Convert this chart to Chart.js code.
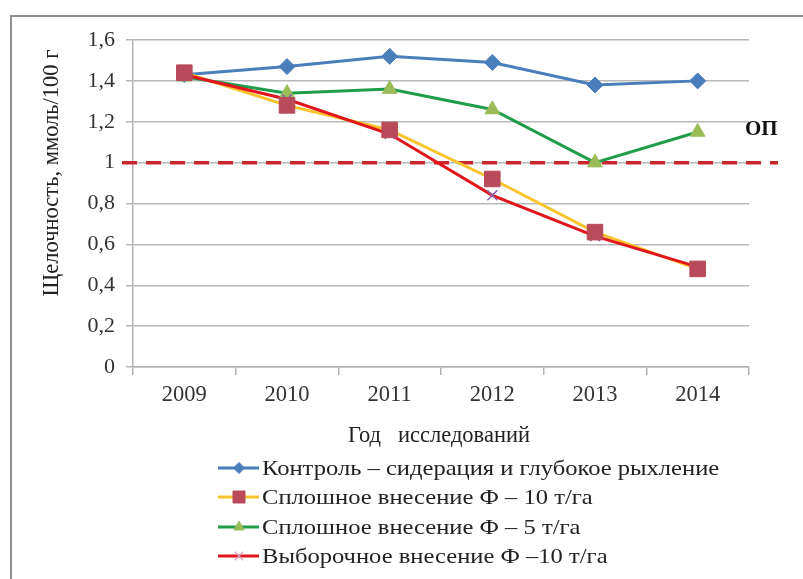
<!DOCTYPE html>
<html>
<head>
<meta charset="utf-8">
<script src="https://cdn.jsdelivr.net/npm/chart.js@4/dist/chart.umd.min.js"></script>
<style>
  html, body { margin: 0; padding: 0; background: #ffffff; }
  #wrap { width: 803px; height: 579px; position: relative; }
</style>
</head>
<body>
<div id="wrap"><canvas id="chart" width="803" height="579"></canvas></div>
<script>
// Years of observation
const years = ['2009', '2010', '2011', '2012', '2013', '2014'];

// Alkalinity, mmol/100 g
const control     = [1.43, 1.47, 1.52, 1.49, 1.38, 1.40];
const solid10     = [1.44, 1.28, 1.16, 0.92, 0.66, 0.48];
const solid5      = [1.42, 1.34, 1.36, 1.26, 1.00, 1.15];
const selective10 = [1.43, 1.31, 1.14, 0.84, 0.64, 0.49];

const seriesNames = [
  'Контроль \u2013 сидерация и глубокое рыхление',
  'Сплошное внесение Ф \u2013 10 т/га',
  'Сплошное внесение Ф \u2013 5 т/га',
  'Выборочное внесение Ф \u201310 т/га'
];

// Y axis ticks
const yTicks = [0, 0.2, 0.4, 0.6, 0.8, 1, 1.2, 1.4, 1.6];

// Optimal level line
const thresholdValue = 1;
const thresholdLabel = 'ОП';

const xTitle = 'Год   исследований';
const yTitle = 'Щелочность, ммоль/100 г';

const SERIF = '"Liberation Serif", "Times New Roman", serif';

const styles = [
  { line: '#4a7ebb', fill: '#4a7ebb', stroke: '#4a7ebb', point: 'rectRot',  radius: 8,    bw: 1,   legendR: 5.5 },
  { line: '#f9c32c', fill: '#b94a5a', stroke: '#b94a5a', point: 'rect',     radius: 11,   bw: 1,   legendR: 8.5 },
  { line: '#1f9d4a', fill: '#9bbb59', stroke: '#9bbb59', point: 'triangle', radius: 8.5,  bw: 1,   legendR: 6 },
  { line: '#e0161c', fill: '#d9a0c0', stroke: '#d9a0c0', point: 'crossRot', radius: 7,    bw: 1.2, legendR: 6 }
];
const markerColors = ['#4a7ebb', '#b94a5a', '#9bbb59', '#8a64a8'];
const seriesData = [control, solid10, solid5, selective10];
const lineOrder = [14, 13, 12, 11];
const markerOrder = [3, 0, 2, 1];

const datasets = [];
seriesData.forEach((d, i) => {
  const s = styles[i];
  datasets.push({
    label: seriesNames[i],
    data: d,
    borderColor: s.line,
    borderWidth: 3,
    pointRadius: 0,
    pointHoverRadius: 0,
    fill: false,
    tension: 0,
    order: lineOrder[i]
  });
});
seriesData.forEach((d, i) => {
  const s = styles[i];
  datasets.push({
    label: seriesNames[i] + ' (markers)',
    data: d,
    showLine: false,
    pointStyle: s.point,
    pointRadius: s.radius,
    pointHoverRadius: s.radius,
    pointBackgroundColor: markerColors[i],
    pointBorderColor: markerColors[i],
    pointBorderWidth: i === 3 ? 1.5 : s.bw,
    order: markerOrder[i]
  });
});

const fmt = v => String(+Number(v).toFixed(1)).replace('.', ',');

const decor = {
  id: 'decor',
  beforeDraw(chart) {
    const ctx = chart.ctx;
    ctx.save();
    ctx.strokeStyle = '#8f8f8f';
    ctx.lineWidth = 2;
    ctx.beginPath();
    ctx.moveTo(11, 579);
    ctx.lineTo(11, 16);
    ctx.lineTo(803, 16);
    ctx.stroke();
    ctx.restore();
  },
  beforeDatasetsDraw(chart) {
    const ctx = chart.ctx;
    const y = chart.scales.y.getPixelForValue(thresholdValue);
    ctx.save();
    ctx.strokeStyle = '#c8262c';
    ctx.lineWidth = 3.5;
    ctx.setLineDash([15, 9]);
    ctx.beginPath();
    ctx.moveTo(122, y);
    ctx.lineTo(778, y);
    ctx.stroke();
    ctx.restore();
  },
  afterDraw(chart) {
    const ctx = chart.ctx;
    const area = chart.chartArea;
    ctx.save();
    ctx.fillStyle = '#111111';
    // threshold label
    ctx.font = 'bold 21px ' + SERIF;
    ctx.textAlign = 'left';
    ctx.textBaseline = 'middle';
    ctx.fillText(thresholdLabel, 745, 130);

    // axis titles
    ctx.font = '22.5px ' + SERIF;
    ctx.fillStyle = '#222222';
    ctx.textAlign = 'center';
    ctx.fillText(xTitle, (area.left + area.right) / 2 - 2, 436);
    ctx.save();
    ctx.translate(52, 173);
    ctx.rotate(-Math.PI / 2);
    ctx.fillText(yTitle, 0, 0);
    ctx.restore();

    // legend
    const rows = [468, 497, 527, 556];
    ctx.textAlign = 'left';
    ctx.font = '21px ' + SERIF;
    seriesNames.forEach((name, i) => {
      const s = styles[i];
      const y = rows[i];
      ctx.strokeStyle = s.line;
      ctx.lineWidth = 3;
      ctx.setLineDash([]);
      ctx.beginPath();
      ctx.moveTo(218, y);
      ctx.lineTo(259, y);
      ctx.stroke();
      ctx.fillStyle = s.fill;
      ctx.strokeStyle = s.stroke;
      ctx.lineWidth = s.bw;
      Chart.helpers.drawPoint(ctx, {
        pointStyle: s.point,
        radius: s.legendR,
        rotation: 0,
        borderWidth: s.bw
      }, 239, y);
      ctx.fillStyle = '#222222';
      ctx.save();
      ctx.translate(262, y + 1);
      ctx.scale(1.17, 1);
      ctx.fillText(name, 0, 0);
      ctx.restore();
    });
    ctx.restore();
  }
};

new Chart(document.getElementById('chart'), {
  type: 'line',
  data: { labels: years, datasets },
  plugins: [decor],
  options: {
    responsive: false,
    animation: false,
    devicePixelRatio: 1,
    layout: { padding: { top: 40, right: 54, bottom: 167, left: 0 } },
    plugins: {
      legend: { display: false },
      tooltip: { enabled: false }
    },
    scales: {
      x: {
        offset: true,
        afterFit(scale) { scale.height = 45; },
        grid: {
          offset: true,
          drawOnChartArea: false,
          drawTicks: true,
          tickLength: 8,
          color: '#b3b3b3',
          lineWidth: 1.5
        },
        border: { display: true, color: '#b3b3b3', width: 1.5 },
        ticks: {
          color: '#333333',
          padding: 7,
          font: { family: SERIF, size: 22.5 }
        }
      },
      y: {
        min: 0,
        max: 1.6,
        afterFit(scale) { scale.width = 133; },
        afterBuildTicks(scale) { scale.ticks = yTicks.map(v => ({ value: v })); },
        grid: {
          color: '#b8b8b8',
          lineWidth: 1.5,
          tickLength: 7,
          drawTicks: true
        },
        border: { display: true, color: '#b3b3b3', width: 1.5 },
        ticks: {
          color: '#333333',
          padding: 11,
          font: { family: SERIF, size: 22 },
          callback: v => fmt(v)
        }
      }
    }
  }
});
</script>
</body>
</html>
